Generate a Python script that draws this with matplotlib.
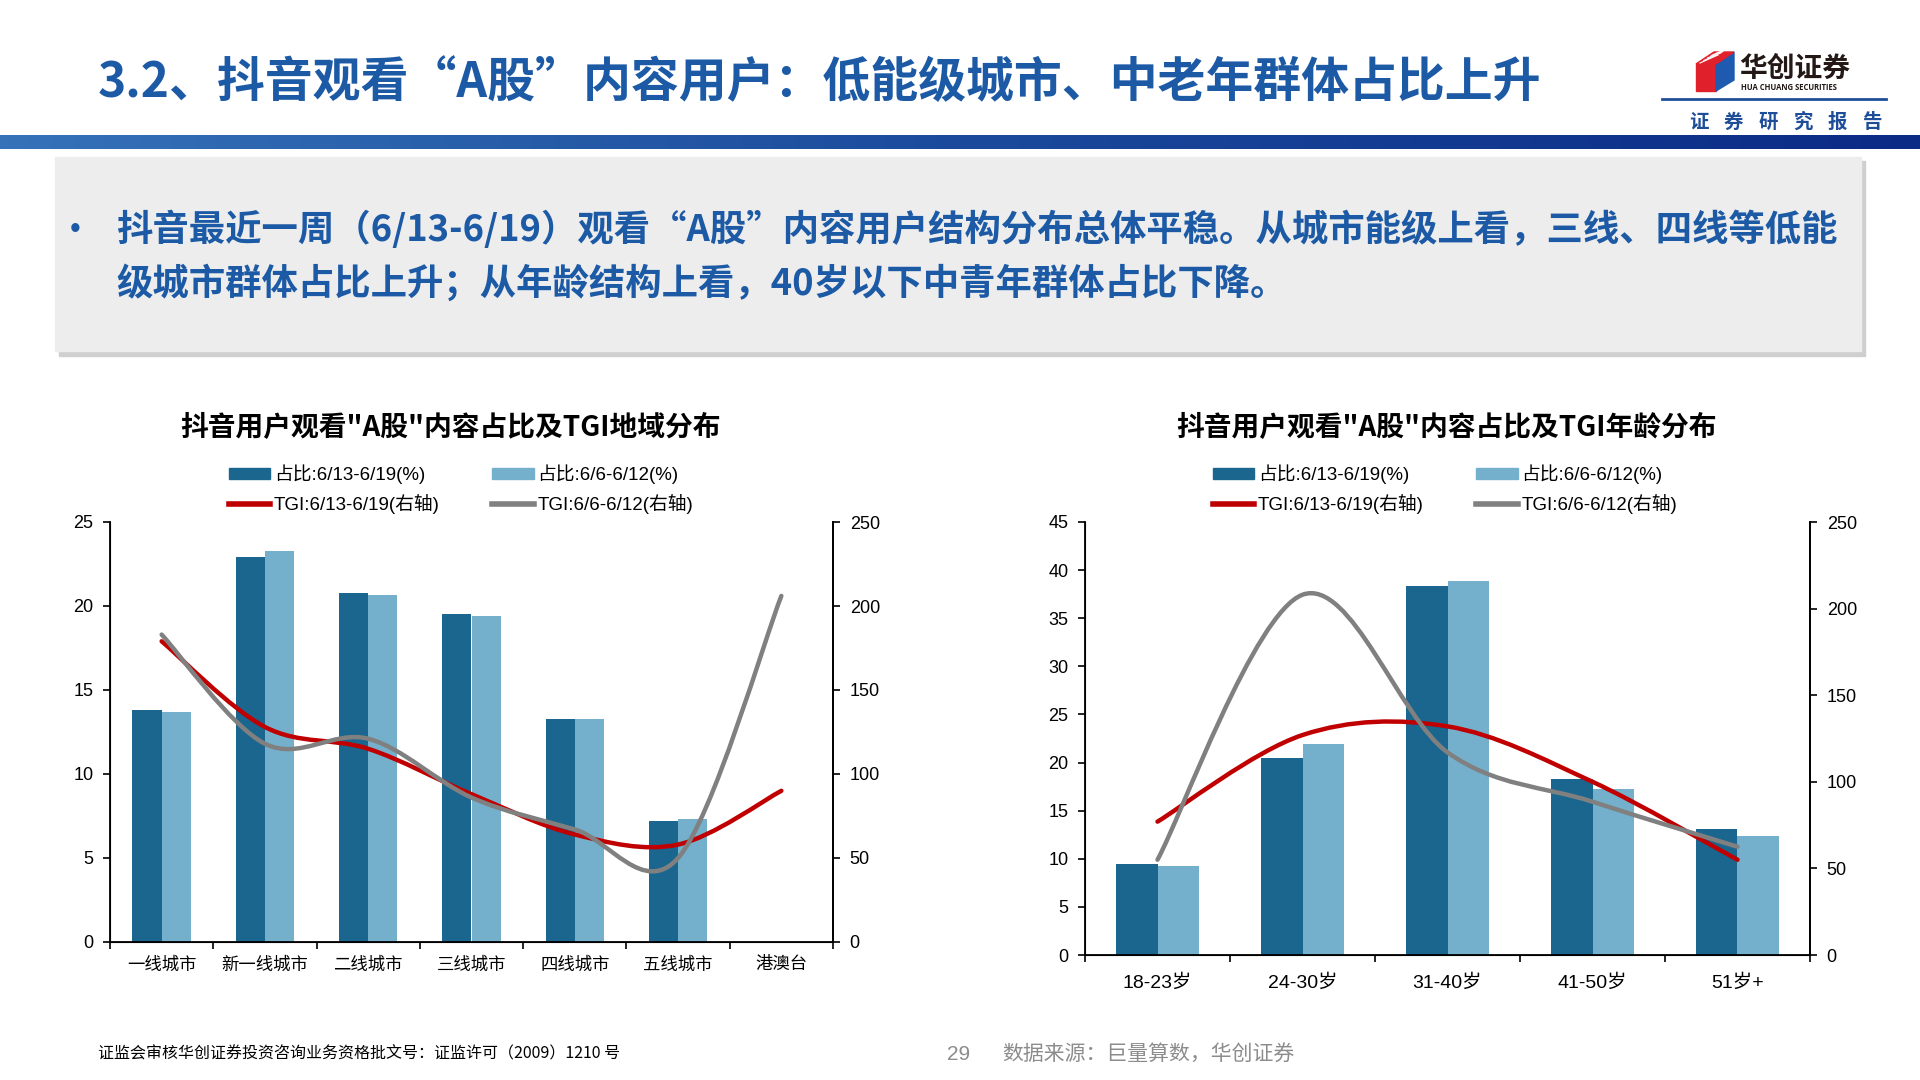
import matplotlib
matplotlib.use("Agg")
import matplotlib.pyplot as plt
import numpy as np
from matplotlib.patches import Rectangle, Polygon, PathPatch
from matplotlib.path import Path
from matplotlib.lines import Line2D
from matplotlib.colors import LinearSegmentedColormap

plt.rcParams['font.family'] = ['Liberation Sans', 'Noto Sans CJK SC', 'DejaVu Sans']

# ---- data ----
cities = ["一线城市", "新一线城市", "二线城市", "三线城市", "四线城市", "五线城市", "港澳台"]
city_share_now = [13.8, 22.9, 20.8, 19.55, 13.25, 7.2, 0]
city_share_prev = [13.7, 23.3, 20.65, 19.4, 13.3, 7.35, 0]
city_tgi_now = [179, 128, 115, 88, 64, 58, 90]
city_tgi_prev = [183, 118, 121, 86, 67, 50, 206]

ages = ["18-23岁", "24-30岁", "31-40岁", "41-50岁", "51岁+"]
age_share_now = [9.5, 20.5, 38.4, 18.3, 13.05]
age_share_prev = [9.3, 21.9, 38.9, 17.3, 12.4]
age_tgi_now = [77, 127, 132, 100, 55]
age_tgi_prev = [55, 208, 117, 88.5, 62.5]

legend_labels = ["占比:6/13-6/19(%)", "TGI:6/13-6/19(右轴)", "占比:6/6-6/12(%)", "TGI:6/6-6/12(右轴)"]

DARK = "#1a668e"
LIGHT = "#74b0cc"
RED = "#c00000"
GRAY = "#808080"
BLUE_TXT = "#1d5aa6"

W, H = 1920, 1080
fig = plt.figure(figsize=(19.2, 10.8), dpi=100)


def fx(px):
    return px / W


def fy(py):
    return 1 - py / H


def smooth_path(xs, ys):
    # Excel-style smoothed line through the points
    pts = np.column_stack([xs, ys]).astype(float)
    n = len(pts)
    verts = [pts[0]]
    codes = [Path.MOVETO]
    for i in range(n - 1):
        p0 = pts[max(i - 1, 0)]
        p1 = pts[i]
        p2 = pts[i + 1]
        p3 = pts[min(i + 2, n - 1)]
        verts += [p1 + (p2 - p0) / 6, p2 - (p3 - p1) / 6, p2]
        codes += [Path.CURVE4] * 3
    return Path(verts, codes)


# ---- header ----
fig.text(fx(98), fy(83), "3.2、抖音观看“A股”内容用户：低能级城市、中老年群体占比上升",
         fontsize=34.5, fontweight="bold", color=BLUE_TXT, va="center", ha="left",
         family=['Noto Sans CJK SC', 'DejaVu Sans'])

band = fig.add_axes([0, fy(149), 1, (149 - 135) / H])
grad = np.linspace(0, 1, 256).reshape(1, -1)
band_cmap = LinearSegmentedColormap.from_list("band", ["#3572b8", "#1b4a9c", "#0b2a86"])
band.imshow(grad, aspect="auto", cmap=band_cmap)
band.set_axis_off()

# logo
fig.add_artist(Polygon([(fx(1696), fy(64)), (fx(1716), fy(64)), (fx(1716), fy(91)), (fx(1696), fy(91))],
                       closed=True, color="#e0202a", transform=fig.transFigure))
fig.add_artist(Polygon([(fx(1716), fy(64)), (fx(1734), fy(52)), (fx(1734), fy(80)), (fx(1716), fy(91))],
                       closed=True, color="#1e5bb0", transform=fig.transFigure))
fig.add_artist(Polygon([(fx(1696), fy(64)), (fx(1714), fy(52)), (fx(1734), fy(52)), (fx(1716), fy(64))],
                       closed=True, color="#e0202a", transform=fig.transFigure))
for k in range(4):
    off = 2.5 * k
    fig.add_artist(Line2D([fx(1700 + off * 1.5), fx(1718 + off * 1.5)], [fy(63 - off), fy(53 - off + 2)],
                          color="white", lw=0.8, transform=fig.transFigure))
fig.text(fx(1739), fy(69), "华创证券", fontsize=20, fontweight="bold", color="#231815",
         va="center", ha="left", family=['Noto Sans CJK SC'])
fig.text(fx(1741), fy(87), "HUA CHUANG SECURITIES", fontsize=5.5, fontweight="bold", color="#231815",
         va="center", ha="left", family=['Open Sans', 'DejaVu Sans'])
fig.add_artist(Line2D([fx(1662), fx(1886)], [fy(99), fy(99)], color="#1f4e99", lw=2,
                      transform=fig.transFigure))
for i, ch in enumerate("证券研究报告"):
    fig.text(fx(1699 + i * 34.5), fy(122), ch, fontsize=14, fontweight="bold", color="#1f4e99",
             ha="center", va="center", family=['Noto Sans CJK SC'])

# ---- summary box ----
fig.add_artist(Rectangle((fx(59), fy(356)), fx(1806), (356 - 161) / H, color="#cfcfcf",
                         transform=fig.transFigure, zorder=0))
fig.add_artist(Rectangle((fx(55), fy(351)), fx(1806), (351 - 157) / H, color="#ededed",
                         transform=fig.transFigure, zorder=1))
fig.text(fx(70), fy(230), "•", fontsize=22, color=BLUE_TXT, va="center", ha="left", zorder=2)
fig.text(fx(116), fy(230), "抖音最近一周（6/13-6/19）观看“A股”内容用户结构分布总体平稳。从城市能级上看，三线、四线等低能",
         fontsize=26.2, fontweight="bold", color=BLUE_TXT, va="center", ha="left", zorder=2,
         family=['Noto Sans CJK SC', 'DejaVu Sans'])
fig.text(fx(116), fy(284), "级城市群体占比上升；从年龄结构上看，40岁以下中青年群体占比下降。",
         fontsize=26.2, fontweight="bold", color=BLUE_TXT, va="center", ha="left", zorder=2,
         family=['Noto Sans CJK SC', 'DejaVu Sans'])


# ---- charts ----
def draw_chart(box, cats, share_now, share_prev, tgi_now, tgi_prev, ymax, title, title_x, legend_x,
               xlabel_fs, xlabel_pad):
    left, top, right, bottom = box
    ax = fig.add_axes([fx(left), fy(bottom), (right - left) / W, (bottom - top) / H])
    x = np.arange(len(cats))
    w = 0.283
    ax.bar(x - w / 2, share_now, w, color=DARK, zorder=2)
    ax.bar(x + w / 2, share_prev, w, color=LIGHT, zorder=2)
    ax.set_xlim(-0.5, len(cats) - 0.5)
    ax.set_ylim(0, ymax)
    ax.set_yticks(np.arange(0, ymax + 1, 5))
    ax.set_xticks(np.arange(len(cats) + 1) - 0.5)
    ax.set_xticklabels([])
    ax.set_xticks(x, minor=True)
    ax.set_xticklabels(cats, minor=True, fontsize=xlabel_fs)
    ax.tick_params(axis="x", which="minor", length=0, pad=xlabel_pad)
    ax.tick_params(axis="x", which="major", length=5, width=1.2, direction="out")
    ax.tick_params(axis="y", length=5, width=1.2, direction="out", labelsize=13, pad=7)
    ax.spines["top"].set_visible(False)
    for s in ["left", "bottom", "right"]:
        ax.spines[s].set_linewidth(1.3)

    ax2 = ax.twinx()
    ax2.set_ylim(0, 250)
    ax2.set_yticks(np.arange(0, 251, 50))
    ax2.tick_params(axis="y", length=5, width=1.2, direction="out", labelsize=13, pad=7)
    ax2.spines["top"].set_visible(False)
    ax2.spines["right"].set_linewidth(1.3)
    ax2.add_patch(PathPatch(smooth_path(x, tgi_now), fill=False, edgecolor=RED, lw=3.2,
                            capstyle="round", zorder=3))
    ax2.add_patch(PathPatch(smooth_path(x, tgi_prev), fill=False, edgecolor=GRAY, lw=3.2,
                            capstyle="round", zorder=4))

    fig.text(fx(title_x), fy(428), title, fontsize=20, fontweight="bold", ha="center", va="center",
             family=['Noto Sans CJK SC', 'DejaVu Sans'])
    handles = [Rectangle((0, 0), 1, 1, color=DARK), Line2D([], [], color=RED, lw=4),
               Rectangle((0, 0), 1, 1, color=LIGHT), Line2D([], [], color=GRAY, lw=4)]
    ax.legend(handles, legend_labels, ncol=2, loc="center", bbox_to_anchor=(fx(legend_x), fy(489)),
              bbox_transform=fig.transFigure, frameon=False, fontsize=13.5, handlelength=2.2,
              handleheight=0.5, handletextpad=0.2, columnspacing=2.8, labelspacing=0.5)
    return ax


draw_chart((110, 522, 833, 942), cities, city_share_now, city_share_prev, city_tgi_now, city_tgi_prev,
           25, "抖音用户观看\"A股\"内容占比及TGI地域分布", 451, 461, 12.5, 10)
draw_chart((1085, 522, 1810, 955), ages, age_share_now, age_share_prev, age_tgi_now, age_tgi_prev,
           45, "抖音用户观看\"A股\"内容占比及TGI年龄分布", 1447, 1445, 14, 14)

# ---- footer ----
fig.text(fx(98), fy(1054), "证监会审核华创证券投资咨询业务资格批文号：证监许可（2009）1210 号",
         fontsize=11.5, ha="left", va="center", family=['Noto Sans CJK SC', 'DejaVu Sans'])
fig.text(fx(959), fy(1054), "29", fontsize=15, color="#8c8c8c", ha="center", va="center")
fig.text(fx(1002), fy(1054), "数据来源：巨量算数，华创证券", fontsize=15, color="#8c8c8c", ha="left",
         va="center", family=['Noto Sans CJK SC', 'DejaVu Sans'])

fig.savefig("out.png", dpi=100)
